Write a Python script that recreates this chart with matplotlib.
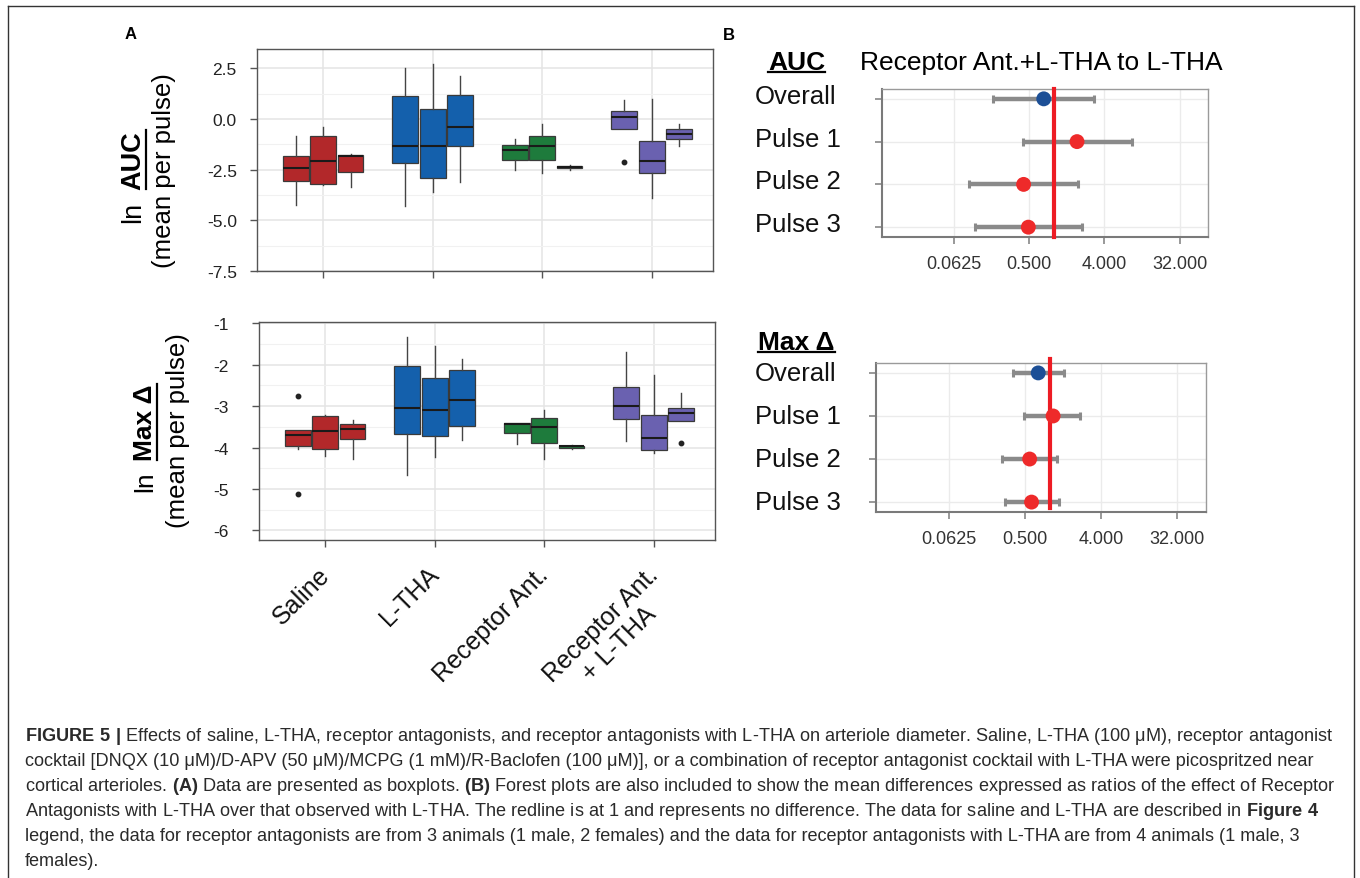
import matplotlib
matplotlib.use('Agg')
import matplotlib.pyplot as plt
import matplotlib.transforms as mtransforms
from matplotlib.lines import Line2D
from matplotlib.ticker import NullLocator, FixedLocator
import numpy as np

plt.rcParams['font.family'] = ['Liberation Sans', 'DejaVu Sans']
plt.rcParams['mathtext.fontset'] = 'custom'
plt.rcParams['mathtext.rm'] = 'Liberation Sans'
plt.rcParams['mathtext.bf'] = 'Liberation Sans:bold'

# ---------------- data ----------------
groups = ["Saline", "L-THA", "Receptor Ant.", "Receptor Ant.\n+ L-THA"]
group_colors = ["#B2282A", "#1460AC", "#1E7B3C", "#6A61B0"]

# AUC boxplot stats [group][pulse]
auc_whishi = [[-0.84, -0.41, -1.72], [2.52, 2.70, 2.11], [-1.00, -0.26, -2.26], [0.93, 0.97, -0.26]]
auc_q3 = [[-1.82, -0.84, -1.77], [1.13, 0.51, 1.20], [-1.28, -0.82, -2.31], [0.38, -1.11, -0.48]]
auc_med = [[-2.43, -2.07, -1.82], [-1.33, -1.33, -0.41], [-1.52, -1.34, -2.38], [0.11, -2.05, -0.72]]
auc_q1 = [[-3.08, -3.20, -2.61], [-2.16, -2.93, -1.34], [-2.02, -2.02, -2.44], [-0.48, -2.69, -0.98]]
auc_whislo = [[-4.26, -3.25, -3.38], [-4.31, -3.60, -3.13], [-2.51, -2.69, -2.52], [-0.48, -3.90, -1.31]]
auc_fliers = [[[], [], []], [[], [], []], [[], [], []], [[-2.10], [], []]]

# Max delta boxplot stats [group][pulse]
mx_whishi = [[-3.57, -3.21, -3.33], [-1.34, -1.54, -1.86], [-3.41, -3.09, -3.93], [-1.70, -2.24, -2.69]]
mx_q3 = [[-3.57, -3.23, -3.42], [-2.02, -2.31, -2.13], [-3.41, -3.29, -3.95], [-2.55, -3.22, -3.05]]
mx_med = [[-3.69, -3.59, -3.54], [-3.04, -3.10, -2.86], [-3.42, -3.50, -3.96], [-2.99, -3.78, -3.17]]
mx_q1 = [[-3.96, -4.03, -3.79], [-3.67, -3.73, -3.48], [-3.66, -3.89, -4.00], [-3.32, -4.05, -3.37]]
mx_whislo = [[-4.04, -4.21, -4.28], [-4.65, -4.22, -3.81], [-3.91, -4.28, -4.04], [-3.83, -4.13, -3.37]]
mx_fliers = [[[-2.75, -5.11], [], []], [[], [], []], [[], [], []], [[], [], [-3.89]]]

auc_yticks = [2.5, 0.0, -2.5, -5.0, -7.5]
auc_yticklabels = ["2.5", "0.0", "-2.5", "-5.0", "-7.5"]
mx_yticks = [-1, -2, -3, -4, -5, -6]
mx_yticklabels = ["-1", "-2", "-3", "-4", "-5", "-6"]

# Forest plots
rows = ["Overall", "Pulse 1", "Pulse 2", "Pulse 3"]
row_colors = ["#1C4F96", "#EE2A2A", "#EE2A2A", "#EE2A2A"]
auc_est = [0.75, 1.88, 0.43, 0.49]
auc_lo = [0.187, 0.42, 0.095, 0.113]
auc_hi = [3.03, 8.7, 1.94, 2.16]
mx_est = [0.72, 1.08, 0.57, 0.60]
mx_lo = [0.36, 0.49, 0.27, 0.29]
mx_hi = [1.46, 2.25, 1.20, 1.26]
forest_ticks = [0.0625, 0.5, 4.0, 32.0]
forest_ticklabels = ["0.0625", "0.500", "4.000", "32.000"]
ref_line = 1.0

# ---------------- layout helpers ----------------
W, H = 1360, 879
fig = plt.figure(figsize=(W / 100, H / 100), dpi=100)
fig.patch.set_facecolor('white')


def rect(l, t, r, b):
    return [l / W, 1 - b / H, (r - l) / W, (b - t) / H]


def fx(x):
    return x / W


def fy(y):
    return 1 - y / H


# outer border
for xs, ys in [([8, 8], [7, 879]), ([8, 1354], [7, 7]), ([1354, 1354], [7, 879])]:
    fig.add_artist(Line2D([fx(v) for v in xs], [fy(v) for v in ys], color='#333333', lw=1.0,
                          transform=fig.transFigure))

offsets = [-0.25, 0.0, 0.25]


def boxpanel(ax, whislo, q1, med, q3, whishi, fliers, yticks, yticklabels, ylim, minor, pad):
    ax.set_facecolor('white')
    for g in range(len(groups)):
        for p in range(3):
            st = dict(whislo=whislo[g][p], q1=q1[g][p], med=med[g][p], q3=q3[g][p],
                      whishi=whishi[g][p], fliers=fliers[g][p])
            ax.bxp([st], positions=[g + 1 + offsets[p]], widths=0.235, patch_artist=True,
                   showcaps=False, manage_ticks=False,
                   boxprops=dict(facecolor=group_colors[g], edgecolor='#3a3a3a', lw=0.9),
                   medianprops=dict(color='#1a1a1a', lw=1.5),
                   whiskerprops=dict(color='#444444', lw=1.0),
                   flierprops=dict(marker='o', markersize=3.2, markerfacecolor='#222222',
                                   markeredgecolor='#222222'))
    ax.set_xlim(0.395, 4.56)
    ax.set_ylim(*ylim)
    ax.set_xticks(range(1, len(groups) + 1))
    ax.set_xticklabels([])
    ax.set_yticks(yticks)
    ax.set_yticklabels(yticklabels, fontsize=12.5, color='#222222')
    ax.yaxis.set_minor_locator(FixedLocator(
        [v + minor / 2 for v in np.arange(min(yticks), max(yticks) + minor, minor)]))
    ax.grid(True, which='major', color='#E4E4E4', lw=1.1)
    ax.grid(True, which='minor', axis='y', color='#F1F1F1', lw=0.8)
    ax.set_axisbelow(True)
    ax.tick_params(axis='x', which='major', color='#555555', length=5, width=1)
    ax.tick_params(axis='y', which='major', color='#555555', length=5, width=1, pad=pad)
    ax.tick_params(axis='both', which='minor', length=0)
    for s in ax.spines.values():
        s.set_color('#555555')
        s.set_linewidth(1.0)


ax1 = fig.add_axes(rect(257, 50, 713, 272))
boxpanel(ax1, auc_whislo, auc_q1, auc_med, auc_q3, auc_whishi, auc_fliers,
         auc_yticks, auc_yticklabels, (-7.5, 3.45), 2.5, 9.5)
ax2 = fig.add_axes(rect(259, 323, 715, 541))
boxpanel(ax2, mx_whislo, mx_q1, mx_med, mx_q3, mx_whishi, mx_fliers,
         mx_yticks, mx_yticklabels, (-6.23, -0.97), 1.0, 17)

# category labels (rotated)
for i, lab in enumerate(groups):
    tr = mtransforms.blended_transform_factory(ax2.transData, ax2.transAxes)
    tr = tr + mtransforms.ScaledTranslation(-8 / 100, -22 / 100, fig.dpi_scale_trans)
    ax2.text(i + 1, 0, lab, transform=tr, rotation=45, rotation_mode='anchor',
             ha='right', va='top', multialignment='center', fontsize=18, color='#111111',
             linespacing=1.15)

# panel letters
fig.text(fx(125), fy(39), "A", fontsize=12, fontweight='bold', va='baseline', ha='left')
fig.text(fx(723), fy(40), "B", fontsize=12, fontweight='bold', va='baseline', ha='left')


def forest(ax, est, lo, hi, vline_ylim):
    ypos = np.arange(1, len(rows) + 1)
    ax.set_xscale('log', base=2)
    ax.set_xlim(2 ** -6.86, 2 ** 6.13)
    ax.set_ylim(4.23, 0.77)
    ax.set_xticks(forest_ticks)
    ax.set_xticklabels(forest_ticklabels, fontsize=13, color='#333333')
    ax.xaxis.set_minor_locator(NullLocator())
    ax.set_yticks(ypos)
    ax.set_yticklabels([])
    ax.grid(True, color='#EBEBEB', lw=1.0)
    ax.set_axisbelow(True)
    est_a = np.array(est)
    err = [est_a - np.array(lo), np.array(hi) - est_a]
    ax.errorbar(est_a, ypos, xerr=err, fmt='none', ecolor='#8A8A8A', elinewidth=3.2,
                capsize=3, capthick=2.2, zorder=2)
    ax.scatter(est_a, ypos, s=115, c=row_colors, edgecolors='none', zorder=4)
    ax.axvline(ref_line, ymin=vline_ylim[0], ymax=vline_ylim[1], color='#ED1C24', lw=3,
               zorder=3, clip_on=False)
    ax.tick_params(axis='both', color='#888888', length=5, width=1.2, pad=8)
    for name, s in ax.spines.items():
        s.set_color('#9A9A9A' if name in ('top', 'right') else '#7A7A7A')
        s.set_linewidth(1.0 if name in ('top', 'right') else 1.5)
    return ypos


ax3 = fig.add_axes(rect(882, 90, 1208, 238))
yp3 = forest(ax3, auc_est, auc_lo, auc_hi, (0.0, 1.0))
ax4 = fig.add_axes(rect(876, 364, 1206, 513))
yp4 = forest(ax4, mx_est, mx_lo, mx_hi, (0.03, 1.025))

for ax, yp, dy in [(ax3, yp3, 3), (ax4, yp4, 0)]:
    tr = mtransforms.blended_transform_factory(fig.transFigure, ax.transData)
    tr = tr + mtransforms.ScaledTranslation(0, dy / 100, fig.dpi_scale_trans)
    for lab, y in zip(rows, yp):
        ax.text(fx(755), y, lab, transform=tr, ha='left', va='center', fontsize=18.5,
                color='#111111')

# titles of forest plots
t_auc = fig.text(fx(768), fy(70), "AUC", fontsize=19, fontweight='bold', va='baseline', ha='left')
fig.text(fx(860), fy(70), "Receptor Ant.+L-THA to L-THA", fontsize=19, va='baseline', ha='left')
t_max = fig.text(fx(758), fy(350), "Max \u0394", fontsize=19, fontweight='bold', va='baseline', ha='left')

# y labels of boxplots
yl1a = fig.text(fx(133), fy(160.5), "AUC", rotation=90, fontsize=19.5, fontweight='bold', ha='center', va='center')
fig.text(fx(133), fy(212), "ln", rotation=90, fontsize=19.5, ha='center', va='center')
fig.text(fx(164.5), fy(171), "(mean per pulse)", rotation=90, fontsize=18.5, ha='center', va='center')
yl2a = fig.text(fx(145), fy(423), "Max \u0394", rotation=90, fontsize=19, fontweight='bold', ha='center', va='center')
fig.text(fx(145), fy(481.5), "ln", rotation=90, fontsize=19, ha='center', va='center')
fig.text(fx(178), fy(431), "(mean per pulse)", rotation=90, fontsize=18.5, ha='center', va='center')

# caption
cap_lines = [
    r"$\mathbf{FIGURE\ 5\ |}$ Effects of saline, L-THA, receptor antagonists, and receptor antagonists with L-THA on arteriole diameter. Saline, L-THA (100 μM), receptor antagonist",
    "cocktail [DNQX (10 μM)/D-APV (50 μM)/MCPG (1 mM)/R-Baclofen (100 μM)], or a combination of receptor antagonist cocktail with L-THA were picospritzed near",
    r"cortical arterioles. $\mathbf{(A)}$ Data are presented as boxplots. $\mathbf{(B)}$ Forest plots are also included to show the mean differences expressed as ratios of the effect of Receptor",
    r"Antagonists with L-THA over that observed with L-THA. The redline is at 1 and represents no difference. The data for saline and L-THA are described in $\mathbf{Figure\ 4}$",
    "legend, the data for receptor antagonists are from 3 animals (1 male, 2 females) and the data for receptor antagonists with L-THA are from 4 animals (1 male, 3",
    "females).",
]
cap_texts = []
for i, s in enumerate(cap_lines):
    cap_texts.append(fig.text(fx(25), fy(741 + 25 * i), s, fontsize=12, va='baseline',
                              ha='left', color='#2a2a2a'))

fig.canvas.draw()
rend = fig.canvas.get_renderer()
w0 = cap_texts[0].get_window_extent(rend).width
fs = 12 * 1303.0 / w0
for t in cap_texts:
    t.set_fontsize(fs)

# underlines
fig.canvas.draw()
for t, ypx in [(t_auc, 73), (t_max, 353)]:
    bb = t.get_window_extent(rend)
    fig.add_artist(Line2D([bb.x0 / W, bb.x1 / W], [fy(ypx), fy(ypx)], color='black', lw=1.6,
                          transform=fig.transFigure))
for t, xpx in [(yl1a, 145.5), (yl2a, 157)]:
    bb = t.get_window_extent(rend)
    fig.add_artist(Line2D([fx(xpx), fx(xpx)], [bb.y0 / H, bb.y1 / H], color='black', lw=1.6,
                          transform=fig.transFigure))

fig.savefig("out.png", dpi=100, facecolor='white')
